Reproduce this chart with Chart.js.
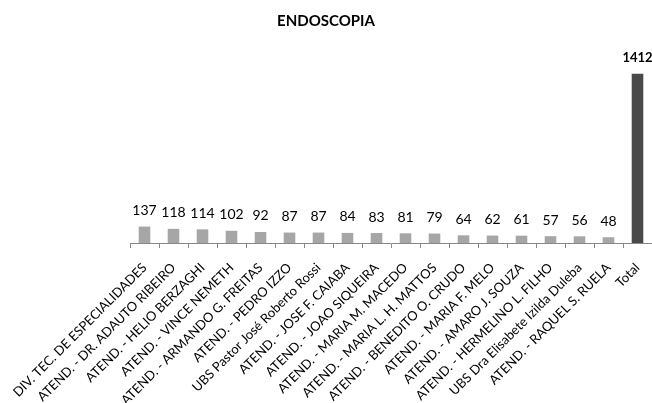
<!DOCTYPE html>
<html>
<head>
<meta charset="utf-8">
<script src="https://cdn.jsdelivr.net/npm/chart.js@4"></script>
<style>
  html, body { margin: 0; padding: 0; background: #fff; }
  #wrap { width: 652px; height: 403px; }
</style>
</head>
<body>
<div id="wrap"><canvas id="chart"></canvas></div>
<script>
const categories = [
  "DIV. TEC. DE ESPECIALIDADES",
  "ATEND. - DR. ADAUTO RIBEIRO",
  "ATEND. - HELIO BERZAGHI",
  "ATEND. - VINCE NEMETH",
  "ATEND. - ARMANDO G. FREITAS",
  "ATEND. - PEDRO IZZO",
  "UBS Pastor José Roberto Rossi",
  "ATEND. - JOSE F. CAIABA",
  "ATEND. - JOAO SIQUEIRA",
  "ATEND. - MARIA M. MACEDO",
  "ATEND. - MARIA L. H. MATTOS",
  "ATEND. - BENEDITO O. CRUDO",
  "ATEND. - MARIA F. MELO",
  "ATEND. - AMARO J. SOUZA",
  "ATEND. - HERMELINO L. FILHO",
  "UBS Dra Elisabete Izilda Duleba",
  "ATEND. - RAQUEL S. RUELA",
  "Total"
];
const values = [137, 118, 114, 102, 92, 87, 87, 84, 83, 81, 79, 64, 62, 61, 57, 56, 48, 1412];
const title = "ENDOSCOPIA";

const FONT = "Lato, 'Open Sans', sans-serif";
const colors = categories.map(c => c === "Total" ? "#4a4a4a" : "#a6a6a6");

const valueLabels = {
  id: "valueLabels",
  afterDatasetsDraw(chart) {
    const ctx = chart.ctx;
    const meta = chart.getDatasetMeta(0);
    ctx.save();
    ctx.textAlign = "center";
    ctx.textBaseline = "bottom";
    ctx.fillStyle = "#000";
    meta.data.forEach((bar, i) => {
      const isTotal = categories[i] === "Total";
      ctx.font = (isTotal ? "bold 13px " : "14px ") + FONT;
      ctx.fillText(String(values[i]), bar.x, bar.y - 9);
    });
    ctx.restore();
  }
};

new Chart(document.getElementById("chart"), {
  type: "bar",
  data: {
    labels: categories,
    datasets: [{
      data: values,
      backgroundColor: colors,
      barPercentage: 0.4,
      categoryPercentage: 1.0
    }]
  },
  options: {
    responsive: true,
    maintainAspectRatio: false,
    animation: false,
    layout: { padding: 0 },
    plugins: {
      legend: { display: false },
      tooltip: { enabled: false },
      title: {
        display: true,
        text: title,
        color: "#000",
        font: { family: FONT, size: 15, weight: "bold" },
        padding: { top: 12, bottom: 14 }
      }
    },
    scales: {
      x: {
        grid: { display: true, drawOnChartArea: false, drawTicks: true, tickLength: 5, color: "#888" },
        border: { display: true, color: "#888" },
        ticks: {
          color: "#000",
          font: { family: FONT, size: 13 },
          minRotation: 45,
          maxRotation: 45,
          autoSkip: false,
          padding: 12
        },
        afterFit(scale) {
          scale.height = 160;
          scale.paddingLeft = 130;
          scale.paddingRight = 0;
        }
      },
      y: {
        display: false,
        min: 0,
        max: 1660
      }
    }
  },
  plugins: [valueLabels]
});
</script>
</body>
</html>
